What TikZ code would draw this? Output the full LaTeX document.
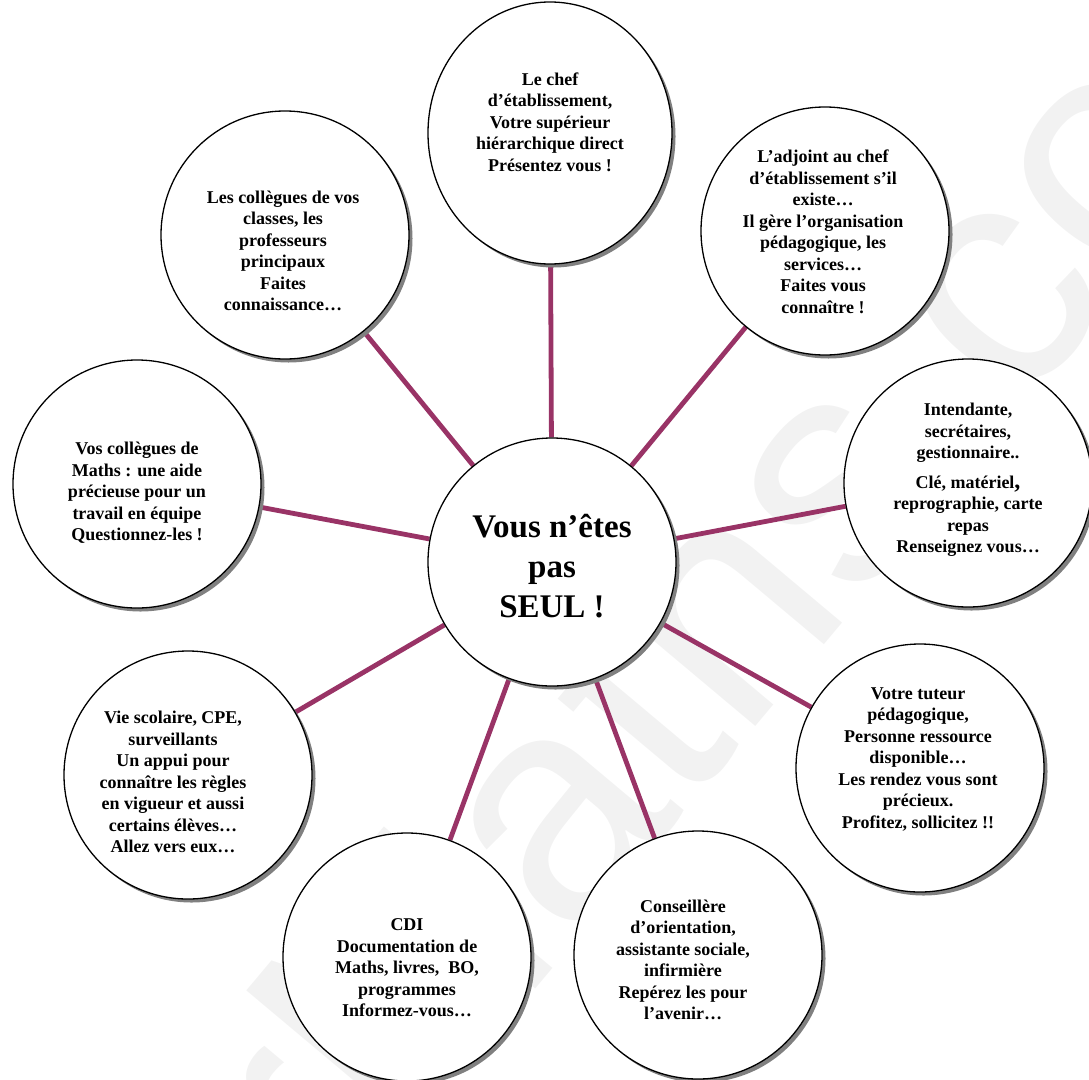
\documentclass[tikz,border=0pt]{standalone}
\usepackage{fontspec}
\setmainfont{Liberation Serif}
\setsansfont{Liberation Sans}
\usetikzlibrary{shadows,backgrounds,shapes.geometric}
\definecolor{prune}{HTML}{993366}

\begin{document}
\begin{tikzpicture}[x=1pt,y=-1pt]

      \useasboundingbox (0,0) rectangle (1089,1079);

      \begin{scope}[every node/.style={circle,draw,fill=white,line width=1.3pt,
          minimum size=248pt,inner sep=0pt,
          drop shadow={opacity=1,fill=black!50,shadow xshift=3.5pt,shadow yshift=-3.5pt}}]
        \node (centre)     at (552,562) {};
        \node[ellipse,minimum width=244pt,minimum height=262pt] (chef) at (550,133) {};
        \node (adjoint)    at (825,231) {};
        \node (intendance) at (968,483) {};
        \node (tuteur)     at (920,768) {};
        \node (conseil)    at (698,955) {};
        \node (cdi)        at (407,957) {};
        \node (viesco)     at (188,775) {};
        \node (maths)      at (137,484) {};
        \node (collegues)  at (285,235) {};
      \end{scope}

      \begin{scope}[every node/.style={align=center,font=\bfseries\fontsize{18}{21.5}\selectfont}]
        \node[font=\bfseries\fontsize{33}{40}\selectfont] (centre-txt) at (552,566)
          {Vous n’êtes\\pas\\SEUL !};
        \node (chef-txt) at (550,122)
          {Le chef\\d’établissement,\\Votre supérieur\\hiérarchique direct\\Présentez vous !};
        \node (adjoint-txt) at (823,232)
          {L’adjoint au chef\\d’établissement s’il\\existe…\\Il gère l’organisation\\pédagogique, les\\services…\\Faites vous\\connaître !};
        \node (intendance-txt) at (968,480)
          {Intendante,\\secrétaires,\\gestionnaire..\\[8pt]Clé, matériel{\fontsize{24}{24}\selectfont,}\\reprographie, carte\\repas\\Renseignez vous…};
        \node (tuteur-txt) at (918,759)
          {Votre tuteur\\pédagogique,\\Personne ressource\\disponible…\\Les rendez vous sont\\précieux.\\Profitez, sollicitez !!};
        \node (conseil-txt) at (683,960)
          {Conseillère\\d’orientation,\\assistante sociale,\\infirmière\\Repérez les pour\\l’avenir…};
        \node (cdi-txt) at (407,968)
          {CDI\\Documentation de\\Maths, livres,~ BO,\\programmes\\Informez-vous…};
        \node (viesco-txt) at (173,782)
          {Vie scolaire, CPE,\\surveillants\\Un appui pour\\connaître les règles\\en vigueur et aussi\\certains élèves…\\Allez vers eux…};
        \node (maths-txt) at (137,493)
          {Vos collègues de\\Maths : une aide\\précieuse pour un\\travail en équipe\\Questionnez-les !};
        \node (collegues-txt) at (283,251)
          {Les collègues de vos\\classes, les\\professeurs\\principaux\\Faites\\connaissance…};
      \end{scope}

      \begin{scope}[on background layer]
        \node[rotate=50,text=black!5,font=\sffamily\fontsize{320}{320}\selectfont]
          (filigrane) at (780,520) {rMaths.com};

        \begin{scope}[every edge/.style={draw,prune,line width=4.8pt}]
          \path (centre) edge (chef);
          \path (centre) edge (adjoint);
          \path (centre) edge (intendance);
          \path (centre) edge (tuteur);
          \path (centre) edge (conseil);
          \path (centre) edge (cdi);
          \path (centre) edge (viesco);
          \path (centre) edge (maths);
          \path (centre) edge (collegues);
        \end{scope}
      \end{scope}

    \end{tikzpicture}
\end{document}
